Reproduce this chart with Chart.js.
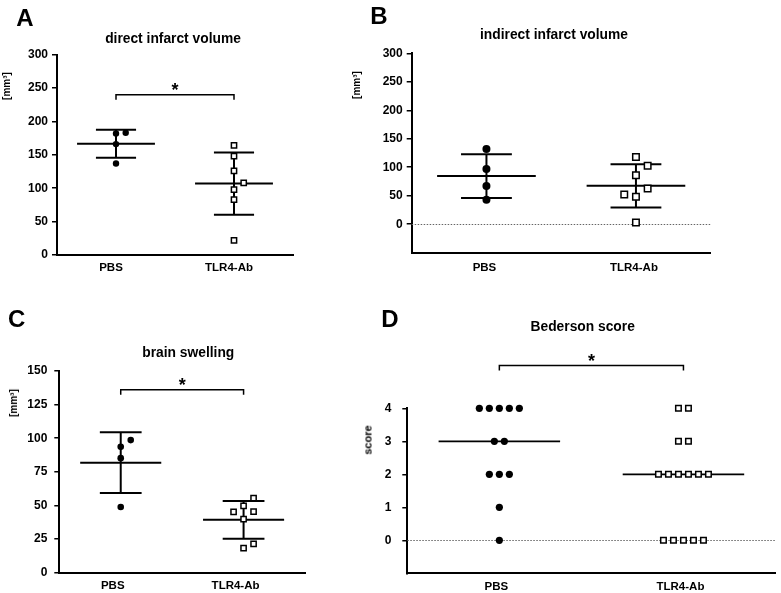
<!DOCTYPE html>
<html>
<head>
<meta charset="utf-8">
<script src="https://cdn.jsdelivr.net/npm/chart.js@4"></script>
<style>
  body { margin: 0; background: #fff; }
  #wrap { position: relative; width: 781px; height: 593px; overflow: hidden;
          font-family: "Liberation Sans", Arial, sans-serif; color: #000; }
  canvas { position: absolute; left: 0; top: 0; }
  .lab { position: absolute; transform: translate(-50%, -50%); white-space: nowrap;
         font-weight: bold; line-height: 1; }
  .letter { font-size: 24px; }
  .title { font-size: 13.8px; }
  .unit { font-size: 10px; transform: translate(-50%, -50%) rotate(-90deg); }
  .score { font-size: 11px; transform: translate(-50%, -50%) rotate(-90deg); }
</style>
</head>
<body>
<div id="wrap">
  <canvas id="chartA" width="781" height="593"></canvas>
  <canvas id="chartB" width="781" height="593"></canvas>
  <canvas id="chartC" width="781" height="593"></canvas>
  <canvas id="chartD" width="781" height="593"></canvas>

  <div class="lab letter" style="left:25px;top:17.5px">A</div>
  <div class="lab letter" style="left:379px;top:16px">B</div>
  <div class="lab letter" style="left:16.7px;top:319px">C</div>
  <div class="lab letter" style="left:390px;top:319px">D</div>

  <div class="lab title" style="left:173px;top:39px">direct infarct volume</div>
  <div class="lab title" style="left:554px;top:35px">indirect infarct volume</div>
  <div class="lab title" style="left:188.3px;top:353.3px">brain swelling</div>
  <div class="lab title" style="left:582.7px;top:327.3px">Bederson score</div>

  <div class="lab unit" style="left:6.7px;top:86px">[mm³]</div>
  <div class="lab unit" style="left:356.7px;top:85px">[mm³]</div>
  <div class="lab unit" style="left:14px;top:402.5px">[mm³]</div>
  <div class="lab score" style="left:368px;top:440px">score</div>
</div>

<script>
const W = 781, H = 593;

// ---- data ----
const groups = ['PBS', 'TLR4-Ab'];

// A: direct infarct volume
const directPBS = [182, 166, 137, 183];
const directTLR = [164, 148, 126, 98, 83, 22, 108];
const directMean = [166.5, 107];
const directSD = [21, 46.6];
const directTicks = [0, 50, 100, 150, 200, 250, 300];
const directSig = 240;

// B: indirect infarct volume
const indirectPBS = [132, 97, 67, 43];
const indirectTLR = [118, 86, 48, 3, 102.5, 62.5, 52];
const indirectMean = [84.5, 67.3];
const indirectSD = [38.5, 38];
const indirectTicks = [0, 50, 100, 150, 200, 250, 300];

// C: brain swelling
const swellPBS = [93.6, 85.2, 48.9, 98.6];
const swellTLR = [49.7, 39.8, 18.2, 55.4, 45.4, 45.2, 21.4];
const swellMean = [81.8, 39.3];
const swellSD = [22.6, 14.1];
const swellTicks = [0, 25, 50, 75, 100, 125, 150];
const swellSig = 136;

// D: Bederson score
const scorePBS = [4, 4, 4, 4, 4, 3, 3, 2, 2, 2, 1, 0];
const scoreTLR = [4, 4, 3, 3, 2, 2, 2, 2, 2, 2, 0, 0, 0, 0, 0];
const scoreMedian = [3, 2];
const scoreTicks = [0, 1, 2, 3, 4];
const scoreSig = 5.3;

Chart.defaults.font.family = '"Liberation Sans", Arial, sans-serif';
Chart.defaults.color = '#000';

// mean / SD lines, zero line, significance bracket
const marks = {
  id: 'marks',
  beforeDatasetsDraw(chart, args, o) {
    const { ctx, chartArea: a, scales: { x, y } } = chart;
    ctx.save();
    if (o.zero) {
      const py = Math.round(y.getPixelForValue(0)) + 0.5;
      ctx.strokeStyle = '#666';
      ctx.lineWidth = 1;
      ctx.setLineDash([1.5, 1.5]);
      ctx.beginPath(); ctx.moveTo(a.left, py); ctx.lineTo(a.right, py); ctx.stroke();
      ctx.setLineDash([]);
    }
    ctx.strokeStyle = '#000';
    ctx.lineWidth = o.width;
    const seg = (x0, x1, v0, v1) => {
      ctx.beginPath();
      ctx.moveTo(x.getPixelForValue(x0), y.getPixelForValue(v0));
      ctx.lineTo(x.getPixelForValue(x1), y.getPixelForValue(v1));
      ctx.stroke();
    };
    o.centre.forEach((m, i) => {
      const c = i + 1;
      seg(c - o.half, c + o.half, m, m);
      if (o.sd) {
        const s = o.sd[i];
        seg(c, c, m - s, m + s);
        seg(c - o.cap, c + o.cap, m + s, m + s);
        seg(c - o.cap, c + o.cap, m - s, m - s);
      }
    });
    ctx.restore();
  },
  afterDraw(chart, args, o) {
    if (o.bracket == null) return;
    const { ctx, scales: { x, y } } = chart;
    const py = y.getPixelForValue(o.bracket);
    const x1 = x.getPixelForValue(1), x2 = x.getPixelForValue(2);
    ctx.save();
    ctx.strokeStyle = '#000';
    ctx.lineWidth = 1.5;
    ctx.beginPath();
    ctx.moveTo(x1, py + 5); ctx.lineTo(x1, py); ctx.lineTo(x2, py); ctx.lineTo(x2, py + 5);
    ctx.stroke();
    ctx.fillStyle = '#000';
    ctx.font = 'bold 18px "Liberation Sans", Arial, sans-serif';
    ctx.textAlign = 'center';
    ctx.textBaseline = 'alphabetic';
    ctx.fillText('*', (x1 + x2) / 2, py + 1.5);
    ctx.restore();
  }
};
Chart.register(marks);

// horizontal offsets (px) so that close points don't overlap
function spread(values, y, step, near, mode) {
  if (mode === 'rows') {
    const seen = {};
    return values.map(v => {
      const n = values.filter(u => u === v).length;
      seen[v] = (seen[v] === undefined ? -1 : seen[v]) + 1;
      return (seen[v] - (n - 1) / 2) * step;
    });
  }
  const placed = [];
  return values.map(v => {
    const py = y.getPixelForValue(v);
    let k = 0, off = 0;
    while (placed.some(p => p.off === off && Math.abs(p.py - py) < near)) {
      k++;
      off = (k % 2 ? 1 : -1) * Math.ceil(k / 2) * step;
    }
    placed.push({ py, off });
    return off;
  });
}

function makeChart(id, cfg) {
  const a = cfg.area;
  const chart = new Chart(document.getElementById(id), {
    type: 'scatter',
    data: {
      datasets: [
        { data: cfg.pbs.map(v => ({ x: 1, y: v })), pointStyle: 'circle', pointRadius: cfg.dot,
          pointBackgroundColor: '#000', pointBorderWidth: 0, clip: false },
        { data: cfg.tlr.map(v => ({ x: 2, y: v })), pointStyle: 'rect', pointRadius: cfg.box,
          pointBackgroundColor: '#fff', pointBorderColor: '#000', pointBorderWidth: 1.5, clip: false }
      ]
    },
    options: {
      responsive: false,
      animation: false,
      devicePixelRatio: 1,
      layout: { padding: { left: a.l - 50, top: a.t, right: W - a.r, bottom: H - a.b - 30 } },
      plugins: {
        legend: { display: false },
        tooltip: { enabled: false },
        marks: { centre: cfg.centre, sd: cfg.sd, half: 0.33, cap: 0.17, width: cfg.lw,
                 zero: cfg.zero, bracket: cfg.sig }
      },
      scales: {
        x: {
          type: 'linear', min: 0.5, max: 2.5,
          afterBuildTicks: s => { s.ticks = [{ value: 1 }, { value: 2 }]; },
          ticks: { callback: (v, i) => groups[i], font: { size: 11.5, weight: 'bold' },
                   padding: cfg.xPad, labelOffset: cfg.xShift, maxRotation: 0 },
          grid: { display: false, drawTicks: false },
          border: { display: true, color: '#000', width: 2 },
          afterFit: s => { s.height = 30; s.paddingLeft = 0; s.paddingRight = 0; }
        },
        y: {
          min: cfg.min, max: cfg.max,
          afterBuildTicks: s => { s.ticks = cfg.ticks.map(v => ({ value: v })); },
          ticks: { font: { size: 12, weight: 'bold' }, padding: cfg.yPad },
          grid: { drawOnChartArea: false, drawTicks: true, tickLength: 5, color: '#000', lineWidth: 1.5 },
          border: { display: true, color: '#000', width: 2 },
          afterFit: s => { s.width = 50; s.paddingTop = 0; s.paddingBottom = 0; }
        }
      }
    }
  });

  const x = chart.scales.x, y = chart.scales.y;
  const unit = x.getPixelForValue(2) - x.getPixelForValue(1);
  [cfg.pbs, cfg.tlr].forEach((vals, i) => {
    const offs = spread(vals, y, cfg.step, cfg.near, cfg.mode);
    chart.data.datasets[i].data = vals.map((v, j) => ({ x: i + 1 + offs[j] / unit, y: v }));
  });
  chart.update('none');
  return chart;
}

makeChart('chartA', {
  area: { l: 57, t: 54.6, r: 293, b: 255 }, min: 0, max: 300, ticks: directTicks,
  pbs: directPBS, tlr: directTLR, centre: directMean, sd: directSD, sig: directSig,
  dot: 3.2, box: 3.7, step: 9.7, near: 9, lw: 2, yPad: 4, xPad: 6, xShift: -5
});

makeChart('chartB', {
  area: { l: 411.7, t: 53.3, r: 710.7, b: 252.7 }, min: -50, max: 300, ticks: indirectTicks,
  pbs: indirectPBS, tlr: indirectTLR, centre: indirectMean, sd: indirectSD, zero: true,
  dot: 4, box: 4.6, step: 11.7, near: 10, lw: 2, yPad: 4, xPad: 8, xShift: -2
});

makeChart('chartC', {
  area: { l: 59.3, t: 371, r: 305, b: 572.7 }, min: 0, max: 150, ticks: swellTicks,
  pbs: swellPBS, tlr: swellTLR, centre: swellMean, sd: swellSD, sig: swellSig,
  dot: 3.3, box: 3.7, step: 10, near: 9, lw: 2, yPad: 7, xPad: 6, xShift: -8
});

makeChart('chartD', {
  area: { l: 407.3, t: 408.3, r: 781, b: 573.3 }, min: -1, max: 4, ticks: scoreTicks,
  pbs: scorePBS, tlr: scoreTLR, centre: scoreMedian, sd: null, sig: scoreSig, zero: true,
  dot: 3.6, box: 3.9, step: 10, mode: 'rows', lw: 1.7, yPad: 11, xPad: 7, xShift: -3
});
</script>
</body>
</html>
